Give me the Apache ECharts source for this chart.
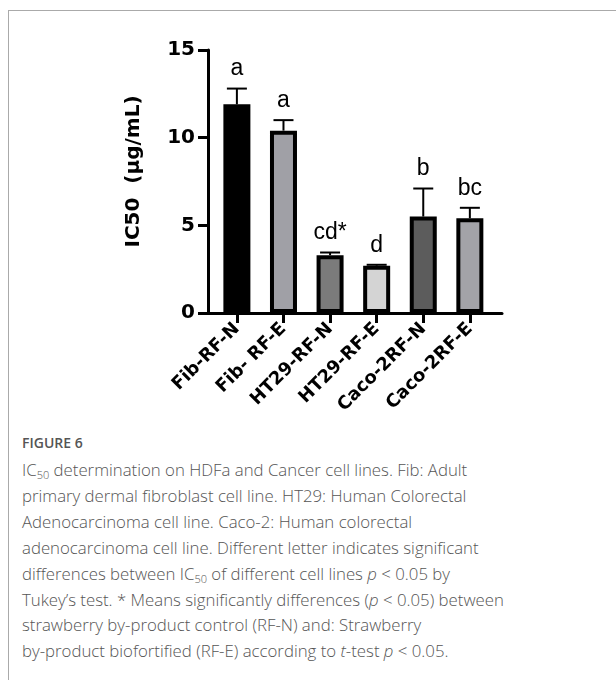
<!DOCTYPE html>
<html>
<head>
<meta charset="utf-8">
<script src="https://cdn.jsdelivr.net/npm/echarts@6/dist/echarts.min.js"></script>
<style>
  html, body { margin: 0; padding: 0; background: #fff; }
  #wrap { position: relative; width: 616px; height: 680px; overflow: hidden; }
  #frame { position: absolute; left: 8px; top: 10px; width: 620px; height: 700px;
           border-left: 1px solid #aaa; border-top: 1px solid #aaa; }
  #chart { position: absolute; left: 0; top: 0; width: 616px; height: 420px; }
  #cap { position: absolute; left: 22px; top: 433px; color: #555;
         font-family: "Open Sans", "Noto Sans", sans-serif; font-weight: 300; white-space: nowrap; }
  #cap .fig { font-weight: 600; font-size: 14px; margin-bottom: 5px; }
  #cap .txt { font-size: 16.8px; line-height: 25.9px; }
  sub { font-size: 11px; vertical-align: -3px; line-height: 0; }
</style>
</head>
<body>
<div id="wrap">
  <div id="frame"></div>
  <div id="chart"></div>
  <div id="cap">
    <div class="fig">FIGURE 6</div>
    <div class="txt">IC<sub>50</sub> determination on HDFa and Cancer cell lines. Fib: Adult<br>primary dermal fibroblast cell line. HT29: Human Colorectal<br>Adenocarcinoma cell line. Caco-2: Human colorectal<br>adenocarcinoma cell line. Different letter indicates significant<br>differences between IC<sub>50</sub> of different cell lines <i>p</i> &lt; 0.05 by<br>Tukey’s test. * Means significantly differences (<i>p</i> &lt; 0.05) between<br>strawberry by-product control (RF-N) and: Strawberry<br>by-product biofortified (RF-E) according to <i>t</i>-test <i>p</i> &lt; 0.05.</div>
  </div>
</div>
<script>
var categories = ['Fib-RF-N', 'Fib- RF-E', 'HT29-RF-N', 'HT29-RF-E', 'Caco-2RF-N', 'Caco-2RF-E'];
var means = [11.9, 10.4, 3.3, 2.7, 5.5, 5.4];
var errors = [0.9, 0.6, 0.15, 0.05, 1.6, 0.6];
var letters = ['a', 'a', 'cd*', 'd', 'b', 'bc'];
var barColors = ['#000000', '#a0a0a6', '#7b7b7b', '#d4d4d4', '#5c5c5c', '#a3a3a8'];
var yTicks = [0, 5, 10, 15];

var idx = categories.map(function (c, i) { return i; });
var boldFont = 'DejaVu Sans, Liberation Sans, Arial, sans-serif';

var chart = echarts.init(document.getElementById('chart'), null, { renderer: 'canvas' });
chart.setOption({
  animation: false,
  grid: { left: 208, right: 114, top: 50, bottom: 107, containLabel: false },
  xAxis: {
    type: 'value',
    min: -0.62,
    max: 5.69,
    splitLine: { show: false },
    axisLine: { show: true, onZero: false, lineStyle: { color: '#000', width: 3 } },
    axisTick: { show: true, customValues: idx, length: 10, lineStyle: { color: '#000', width: 3 } },
    axisLabel: {
      show: true, customValues: idx, rotate: 45, margin: 13,
      color: '#000', fontFamily: boldFont, fontWeight: 'bold', fontSize: 18,
      formatter: function (v) { return categories[Math.round(v)]; }
    }
  },
  yAxis: {
    type: 'value',
    min: 0, max: 15, interval: 5,
    name: 'IC50  (µg/mL)',
    nameLocation: 'middle',
    nameGap: 64,
    nameTextStyle: { color: '#000', fontFamily: boldFont, fontWeight: 'bold', fontSize: 20, padding: [0, 0, 0, 20] },
    splitLine: { show: false },
    axisLine: { show: true, onZero: false, lineStyle: { color: '#000', width: 3 } },
    axisTick: { show: true, length: 10, lineStyle: { color: '#000', width: 3 } },
    axisLabel: {
      color: '#000', fontFamily: boldFont, fontWeight: 'bold', fontSize: 20, margin: 13,
      formatter: function (v) { return yTicks.indexOf(v) >= 0 ? String(v) : ''; }
    }
  },
  series: [
    {
      type: 'bar',
      barWidth: 27,
      data: means.map(function (m, i) {
        return { value: [i, m], itemStyle: { color: barColors[i], borderColor: '#000', borderWidth: 4 } };
      }),
      z: 2
    },
    {
      type: 'custom',
      z: 3,
      data: means.map(function (m, i) { return [i, m, errors[i]]; }),
      renderItem: function (params, api) {
        var i = api.value(0), m = api.value(1), e = api.value(2);
        var base = api.coord([i, m]);
        var top = api.coord([i, m + e]);
        var cap = 10;
        return {
          type: 'group',
          children: [
            { type: 'line', shape: { x1: base[0], y1: base[1], x2: top[0], y2: top[1] },
              style: { stroke: '#000', lineWidth: 2 } },
            { type: 'line', shape: { x1: top[0] - cap, y1: top[1], x2: top[0] + cap, y2: top[1] },
              style: { stroke: '#000', lineWidth: 2 } },
            { type: 'text', x: top[0], y: top[1] - 8,
              style: { text: letters[params.dataIndex], fill: '#000', align: 'center', verticalAlign: 'bottom',
                       font: '23px "Liberation Sans", Arial, sans-serif' } }
          ]
        };
      }
    }
  ]
});
</script>
</body>
</html>
